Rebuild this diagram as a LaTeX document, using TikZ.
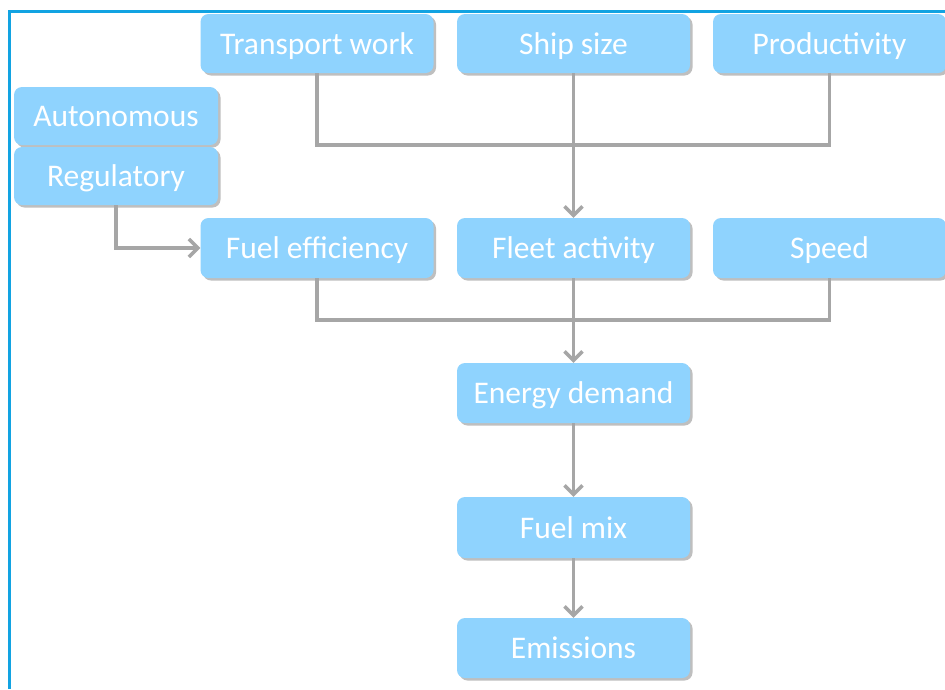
\documentclass[tikz,border=0pt]{standalone}
\usepackage{fontspec}
\setmainfont{Carlito}
\usetikzlibrary{arrows.meta,shadows}
\definecolor{boxfill}{RGB}{143,211,254}
\definecolor{linegray}{RGB}{166,166,166}
\definecolor{frameblue}{RGB}{18,163,226}
\begin{document}
\begin{tikzpicture}[x=1pt,y=-1pt,
  box/.style={fill=boxfill, rounded corners=8pt, text=white, font=\fontsize{31.5}{33}\selectfont,
    minimum width=233pt, minimum height=59pt, inner sep=0pt, text height=21pt, text depth=0pt,
    drop shadow={shadow xshift=2.5pt, shadow yshift=-2.5pt, fill=black!45, opacity=0.55}},
  sidebox/.style={box, minimum width=204pt, minimum height=58pt},
  conn/.style={draw=linegray, line width=3.5pt},
  arr/.style={conn, -{Straight Barb[length=9pt,width=18pt]}}]
\useasboundingbox (0,0) rectangle (945,689);
\fill[white] (0,0) rectangle (945,689);
% frame
\draw[frameblue, line width=3pt] (9,689) -- (9,11) -- (945,11);
% nodes
\node[box] (tw) at (317,43.5) {Transport work};
\node[box] (ss) at (573.5,43.5) {Ship size};
\node[box] (pr) at (829.5,43.5) {Productivity};
\node[sidebox] (au) at (116,116) {Autonomous};
\node[sidebox] (re) at (116,176) {Regulatory};
\node[box, minimum height=60pt] (fe) at (317,248) {Fuel efficiency};
\node[box, minimum height=60pt] (fa) at (573.5,248) {Fleet activity};
\node[box, minimum height=60pt] (sp) at (829.5,248) {Speed};
\node[box, minimum height=60pt] (ed) at (573.5,393) {Energy demand};
\node[box, minimum height=61pt] (fm) at (573.5,527.5) {Fuel mix};
\node[box, minimum height=60pt] (em) at (573.5,648) {Emissions};
% connectors
\coordinate (j1) at (573.5,145);
\coordinate (j2) at (573.5,320);
\draw[conn] (tw.south) |- (j1) -| (pr.south);
\draw[arr] (ss.south) -- (fa.north);
\draw[arr] (re.south) |- (fe.west);
\draw[conn] (fe.south) |- (j2) -| (sp.south);
\draw[arr] (fa.south) -- (ed.north);
\draw[arr] (ed.south) -- (fm.north);
\draw[arr] (fm.south) -- (em.north);
\end{tikzpicture}
\end{document}
